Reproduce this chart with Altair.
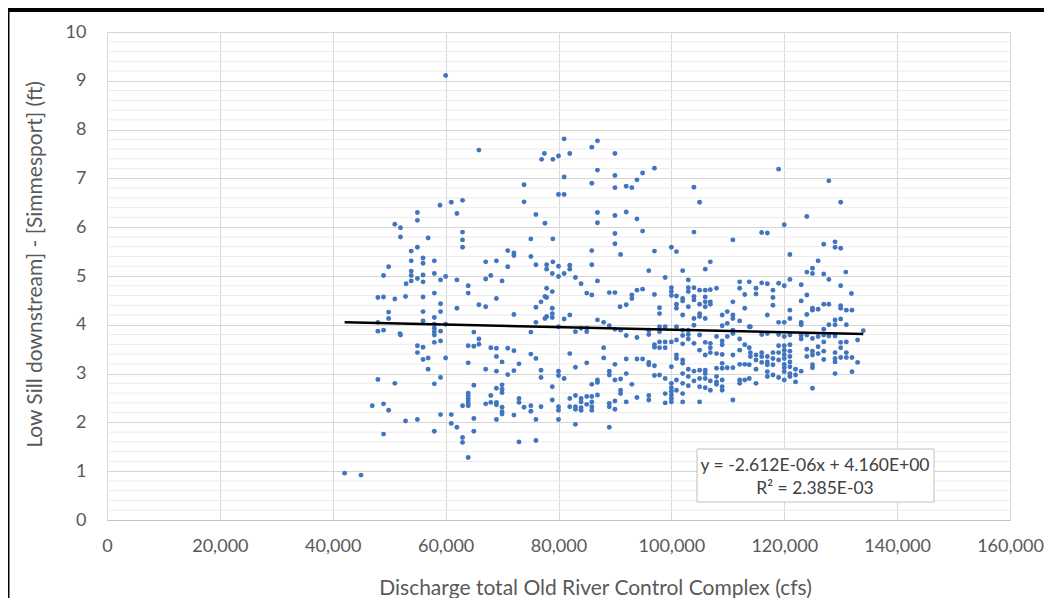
import altair as alt
import pandas as pd

# ---- Data (discharge in thousands of cfs, head difference in ft) ----
# Left cluster (40k-78k cfs), lower half
left_low_kcfs = [
    49.9, 49.0, 53.9, 53.9, 53.0, 53.9, 55.0, 56.0, 56.0, 58.0, 59.1, 60.0, 62.0, 64.0, 64.0, 67.1, 68.0, 70.0, 71.0, 76.0,
    48.0, 49.0, 51.0, 52.9, 56.0, 58.0, 59.1, 59.1, 62.0, 65.9, 67.1, 69.0, 72.1, 76.0, 76.9, 77.6,
    49.9, 49.9, 48.0, 56.0, 56.0, 58.0, 48.0, 49.0, 51.9, 52.0, 58.0, 58.0, 58.0, 58.0, 59.1, 60.0, 58.0, 59.1, 55.0, 56.0,
    55.0, 56.0, 56.9, 60.0, 56.9, 59.1, 58.0, 64.0, 65.0, 65.9, 65.9, 64.0, 65.0, 68.0, 69.0, 71.0, 72.1, 69.0, 70.0, 67.1,
    69.0, 71.0, 72.1, 73.0, 75.1, 76.0, 75.1, 76.0, 77.6, 76.9, 76.9,
    48.0, 51.0, 47.0, 49.0, 49.9, 52.9, 55.0, 49.0, 58.0, 59.1, 61.0, 61.0, 62.0, 63.0, 63.0, 64.0, 63.0, 64.0, 64.0, 64.0,
    64.0, 64.0, 64.0, 65.0, 65.0, 65.0, 67.1, 68.0, 68.0, 69.0, 69.0, 69.0, 70.0, 70.0, 70.0, 70.0, 70.0, 70.0, 69.0, 72.1,
    73.0, 73.0, 73.9, 75.1, 75.1, 76.0, 76.9, 73.0, 76.0, 42.1, 45.0,
]
left_low_ft = [
    5.19, 5.01, 5.10, 5.01, 4.84, 4.90, 4.95, 5.02, 4.88, 5.05, 4.92, 4.99, 4.92, 4.80, 4.65, 4.94, 5.01, 4.90, 5.19, 5.23,
    4.56, 4.57, 4.53, 4.58, 4.57, 4.65, 4.43, 4.27, 4.34, 4.41, 4.37, 4.54, 4.21, 4.36, 4.47, 4.58,
    4.26, 4.13, 4.05, 4.27, 4.08, 4.15, 3.87, 3.89, 3.82, 3.79, 4.01, 3.93, 3.86, 3.79, 3.87, 4.01, 3.64, 3.67, 3.57, 3.54,
    3.43, 3.29, 3.32, 3.32, 3.09, 2.92, 2.79, 3.22, 3.85, 3.71, 3.60, 3.57, 3.56, 3.53, 3.52, 3.52, 3.47, 3.35, 3.24, 3.09,
    3.05, 2.98, 3.06, 3.20, 3.40, 3.31, 3.85, 4.05, 4.13, 3.07, 2.92,
    2.88, 2.80, 2.34, 2.38, 2.25, 2.03, 2.06, 1.76, 1.82, 2.16, 2.16, 1.98, 1.90, 1.69, 1.59, 1.28, 2.34, 2.60, 2.55, 2.49,
    2.44, 2.38, 2.34, 2.76, 2.08, 1.82, 2.38, 2.41, 2.55, 2.70, 2.41, 2.36, 2.77, 2.68, 2.61, 2.31, 2.22, 2.17, 2.06, 2.15,
    2.49, 2.41, 2.31, 2.34, 2.23, 2.06, 2.32, 1.60, 1.63, 0.96, 0.92,
]

# Left cluster, upper half
left_high_kcfs = [
    60.0, 65.9, 77.0, 77.5, 73.9, 73.9, 76.0, 77.6, 59.0, 61.0, 63.0, 55.0, 55.0, 62.0, 51.0, 52.0, 52.0,
    56.9, 63.0, 63.0, 63.0, 55.0, 53.9, 53.9, 56.0, 56.0, 58.0, 67.1, 69.0, 71.0, 72.1, 72.1, 75.1, 75.1,
]
left_high_ft = [
    9.11, 7.58, 7.39, 7.51, 6.87, 6.52, 6.26, 6.08, 6.45, 6.51, 6.55, 6.30, 6.14, 6.28, 6.06, 5.99, 5.80,
    5.78, 5.90, 5.74, 5.59, 5.59, 5.51, 5.31, 5.37, 5.26, 5.31, 5.29, 5.31, 5.52, 5.47, 5.42, 5.76, 5.40,
]

# Middle cluster (78k-114k cfs), upper part
mid_high_kcfs = [
    81.0, 86.9, 85.9, 79.0, 80.0, 82.0, 90.0, 86.9, 97.0, 94.9, 90.0, 93.9, 81.0, 85.9, 90.0, 92.0, 93.0, 104.0, 105.0, 80.0,
    81.0, 86.9, 90.0, 92.0, 93.9, 86.9, 90.0, 94.9, 104.0, 79.0, 90.0, 110.9, 100.0, 100.9, 85.9, 91.0, 97.0, 106.9,
    77.9, 79.0, 80.0, 82.0, 82.0, 85.9, 77.9, 106.0, 96.0, 102.0,
]
mid_high_ft = [
    7.81, 7.77, 7.64, 7.39, 7.46, 7.51, 7.51, 7.17, 7.21, 7.11, 7.06, 6.97, 7.03, 6.90, 6.81, 6.84, 6.81, 6.82, 6.51, 6.67,
    6.67, 6.30, 6.24, 6.31, 6.17, 6.09, 5.87, 5.92, 5.90, 5.76, 5.66, 5.74, 5.59, 5.50, 5.52, 5.44, 5.51, 5.29,
    5.23, 5.29, 5.20, 5.22, 5.14, 5.23, 5.14, 5.14, 5.11, 5.11,
]

# Middle cluster, 4-5 ft
mid_four_kcfs = [
    81.0, 78.9, 80.0, 98.9, 103.0, 77.9, 77.9, 78.9, 83.0, 84.0, 86.9, 85.0, 85.9, 89.0, 90.0, 93.0, 93.0, 93.9, 94.9, 97.0,
    100.0, 100.0, 100.0, 100.9, 102.0, 102.0, 103.0, 103.0, 104.0, 104.0, 104.0, 105.0, 105.0, 106.0, 106.0, 106.0, 106.0, 106.9, 106.9, 106.9,
    108.0, 112.1, 112.1, 113.0, 113.8, 77.9, 78.9, 78.9, 78.9, 81.0, 82.0, 90.9, 92.0, 97.9, 97.9, 100.9, 100.9, 103.0, 102.0, 104.0,
    105.0, 105.0, 106.0, 109.0, 109.9, 110.9, 110.9, 110.9, 112.1, 113.0, 86.9, 88.0, 109.9,
]
mid_four_ft = [
    5.05, 5.05, 4.99, 4.97, 4.92, 4.75, 4.56, 4.68, 4.97, 4.84, 4.90, 4.65, 4.61, 4.66, 4.66, 4.61, 4.54, 4.71, 4.73, 4.62,
    4.76, 4.68, 4.60, 4.59, 4.54, 4.49, 4.76, 4.68, 4.76, 4.58, 4.51, 4.71, 4.42, 4.71, 4.57, 4.47, 4.37, 4.72, 4.47, 4.42,
    4.75, 4.88, 4.75, 4.62, 4.88, 4.17, 4.34, 4.23, 4.15, 4.12, 4.20, 4.37, 4.41, 4.35, 4.23, 4.42, 4.34, 4.37, 4.20, 4.13,
    4.23, 4.17, 4.13, 4.20, 4.27, 4.47, 4.20, 4.13, 4.08, 4.34, 4.10, 4.05, 4.03,
]

# Middle cluster, 3-4 ft
mid_three_kcfs = [
    80.0, 83.0, 84.0, 85.0, 85.0, 89.0, 90.0, 91.0, 92.0, 93.9, 96.0, 96.0, 97.0, 97.0, 97.9, 97.9, 97.9, 97.9, 98.9, 98.9,
    98.9, 100.0, 100.9, 100.9, 102.0, 102.0, 102.0, 103.0, 103.0, 103.0, 104.0, 104.0, 105.0, 105.0, 106.0, 106.0, 106.9, 106.9, 106.9, 108.0,
    108.0, 109.0, 109.0, 109.0, 109.0, 109.9, 110.9, 110.9, 110.9, 112.1, 112.1, 113.0, 113.0, 113.8, 113.8,
    82.0, 83.0, 85.0, 88.0, 88.0, 90.0, 92.0, 93.9, 94.9, 96.0, 96.0, 97.0, 100.0, 100.9, 100.9, 102.0, 102.0, 103.0, 104.0, 105.0,
    106.0, 106.0, 108.0, 109.0, 109.0, 109.9, 110.9, 112.1, 113.8,
]
mid_three_ft = [
    3.96, 3.86, 3.93, 3.93, 3.86, 3.98, 3.91, 3.89, 3.78, 3.74, 3.89, 3.80, 3.59, 3.54, 3.96, 3.86, 3.65, 3.53, 3.96, 3.65,
    3.53, 3.65, 3.96, 3.69, 3.89, 3.78, 3.61, 3.89, 3.80, 3.71, 3.99, 3.62, 3.79, 3.48, 3.64, 3.38, 3.62, 3.53, 3.43, 3.76,
    3.41, 3.98, 3.67, 3.59, 3.39, 3.76, 3.89, 3.82, 3.38, 3.71, 3.48, 3.59, 3.19, 3.96, 3.53,
    3.41, 3.13, 3.22, 3.53, 3.32, 3.19, 3.30, 3.30, 3.30, 3.23, 3.18, 3.16, 3.14, 3.38, 3.31, 3.28, 3.21, 3.09, 3.05, 3.07,
    3.07, 3.00, 3.11, 3.21, 3.11, 3.12, 3.12, 3.19, 3.18,
]

# Middle cluster, below 3 ft
mid_low_kcfs = [
    80.0, 80.0, 81.0, 78.9, 85.9, 86.9, 86.9, 89.0, 89.0, 90.0, 91.0, 91.0, 91.0, 92.0, 93.0, 97.0, 97.9, 98.9, 98.9, 98.9,
    100.0, 100.0, 100.0, 100.0, 100.0, 100.0, 100.9, 100.9, 102.0, 102.0, 102.0, 102.0, 103.0, 103.0, 104.0, 105.0, 105.0, 105.0, 106.0, 106.0,
    106.9, 106.9, 108.0, 108.0, 108.0, 109.0, 109.0, 109.0, 110.9, 112.1, 112.1, 113.0, 113.8,
    78.9, 80.0, 80.0, 80.0, 82.0, 82.0, 83.0, 83.0, 83.0, 83.0, 84.0, 84.0, 84.0, 84.0, 85.0, 85.0, 85.9, 85.9, 85.9, 85.9,
    86.9, 89.0, 89.0, 90.0, 90.0, 89.0, 92.0, 93.9, 96.0, 96.0,
]
mid_low_ft = [
    3.05, 2.96, 2.90, 2.73, 2.78, 2.87, 2.82, 3.05, 2.97, 2.87, 2.89, 2.66, 2.59, 3.00, 2.78, 2.96, 2.97, 2.90, 2.59, 2.40,
    2.80, 2.71, 2.64, 2.56, 2.49, 2.42, 2.87, 2.66, 3.00, 2.80, 2.59, 2.42, 2.94, 2.75, 2.85, 2.90, 2.73, 2.42, 2.90, 2.71,
    2.85, 2.66, 2.94, 2.83, 2.78, 2.87, 2.73, 2.66, 2.46, 2.87, 2.80, 2.87, 2.90,
    2.46, 2.32, 2.25, 2.06, 2.49, 2.32, 2.55, 2.32, 2.27, 1.96, 2.49, 2.42, 2.30, 2.25, 2.53, 2.37, 2.53, 2.42, 2.32, 2.25,
    2.56, 2.39, 2.32, 2.44, 2.27, 1.90, 2.42, 2.51, 2.55, 2.46,
]

# Right cluster (114k-134k cfs), upper part
right_high_kcfs = [
    115.0, 115.0, 116.0, 117.0, 118.0, 119.0, 120.0, 121.0, 123.0, 124.0, 124.0, 125.0, 127.0, 127.9, 130.0, 130.9, 131.9,
    119.0, 127.9, 130.0, 124.0, 120.0, 116.0, 117.0, 127.0, 129.0, 129.0, 130.0, 121.0, 126.0, 125.0,
]
right_high_ft = [
    4.75, 4.63, 4.86, 4.84, 4.71, 4.85, 4.80, 4.93, 4.82, 5.08, 4.61, 5.05, 5.04, 4.93, 4.80, 5.08, 4.64,
    7.19, 6.95, 6.51, 6.22, 6.05, 5.89, 5.88, 5.65, 5.70, 5.59, 5.57, 5.44, 5.31, 5.16,
]

# Right cluster, lower part
right_low_kcfs = [
    118.0, 118.0, 117.0, 119.0, 120.0, 121.0, 121.0, 123.0, 124.0, 125.0, 125.0, 126.0, 127.0, 127.9, 130.0, 130.0, 131.0, 132.0, 129.0, 130.0,
    131.0, 127.0, 127.9, 129.0, 123.0, 123.0, 123.0, 123.0, 124.0, 125.0, 126.0, 127.0, 127.0, 127.9, 129.0, 134.0, 133.0, 114.0, 116.0, 117.0,
    119.0, 120.0, 121.0, 114.0, 114.0, 115.0, 115.0, 116.0, 116.0, 116.0, 117.0, 117.0, 117.0, 117.0, 118.0, 118.0, 118.0, 119.0, 119.0, 119.0,
    120.0, 120.0, 120.0, 120.0, 120.0, 120.0, 120.0, 121.0, 121.0, 121.0, 121.0, 121.0, 121.0, 121.0, 122.0, 122.0, 122.0, 123.0, 115.0, 117.0,
    118.0, 119.0, 120.0, 115.0, 124.0, 124.0, 125.0, 125.0, 125.0, 125.0, 126.0, 126.0, 127.0, 127.0, 129.0, 129.0, 129.0, 130.0, 130.0, 130.0,
    131.0, 131.0, 131.0, 132.0, 133.0, 129.0, 132.0, 125.0,
]
right_low_ft = [
    4.56, 4.40, 4.20, 4.05, 4.05, 4.30, 4.13, 4.49, 4.21, 4.34, 4.30, 4.32, 4.42, 4.42, 4.39, 4.34, 4.30, 4.30, 4.10, 4.12,
    4.00, 3.91, 4.00, 4.00, 4.05, 4.00, 3.78, 3.71, 3.79, 3.72, 3.76, 3.79, 3.65, 3.77, 3.77, 3.88, 3.69, 3.96, 3.80, 3.82,
    3.80, 3.76, 3.79, 3.43, 3.35, 3.38, 3.28, 3.43, 3.35, 3.23, 3.35, 3.24, 3.18, 3.04, 3.43, 3.31, 3.18, 3.57, 3.43, 3.28,
    3.57, 3.48, 3.39, 3.31, 3.19, 3.12, 3.04, 3.59, 3.46, 3.35, 3.24, 3.14, 3.00, 2.94, 3.09, 2.97, 2.83, 3.05, 3.09, 2.94,
    2.97, 2.92, 2.87, 2.80, 3.50, 3.35, 3.46, 3.38, 3.18, 3.12, 3.55, 3.41, 3.46, 3.29, 3.43, 3.31, 3.24, 3.64, 3.53, 3.33,
    3.65, 3.43, 3.33, 3.33, 3.23, 3.00, 3.04, 2.70,
]

# Trend line as given by the chart label
trend_slope = -2.612e-06
trend_intercept = 4.160
eq_lines = ["y = -2.612E-06x + 4.160E+00", "R\u00b2 = 2.385E-03"]

x_ticks = [0, 20000, 40000, 60000, 80000, 100000, 120000, 140000, 160000]
y_ticks = [0, 1, 2, 3, 4, 5, 6, 7, 8, 9, 10]
y_minor = [i / 5 for i in range(51) if i % 5]

X_TITLE = "Discharge total Old River Control Complex (cfs)"
Y_TITLE = "Low Sill downstream] - [Simmesport] (ft)"

# ---- Build tables ----
groups = [
    (left_low_kcfs, left_low_ft), (left_high_kcfs, left_high_ft),
    (mid_high_kcfs, mid_high_ft), (mid_four_kcfs, mid_four_ft),
    (mid_three_kcfs, mid_three_ft), (mid_low_kcfs, mid_low_ft),
    (right_high_kcfs, right_high_ft), (right_low_kcfs, right_low_ft),
]
xs, ys = [], []
for gx, gy in groups:
    assert len(gx) == len(gy), (len(gx), len(gy))
    xs += [v * 1000 for v in gx]
    ys += gy
df = pd.DataFrame({"discharge": xs, "diff": ys})

xmin, xmax = min(xs), max(xs)
trend = pd.DataFrame({
    "discharge": [xmin, xmax],
    "diff": [trend_slope * xmin + trend_intercept, trend_slope * xmax + trend_intercept],
})

FONT = "Lato"
GREY = "#595959"

x_scale = alt.Scale(domain=[0, 160000], nice=False, zero=True)
y_scale = alt.Scale(domain=[0, 10], nice=False)

x_axis = alt.Axis(
    values=x_ticks, format=",.0f", title=X_TITLE, labelFont=FONT, labelFontSize=18, labelColor=GREY,
    labelPadding=17, labelFlush=False, labelOverlap=False, ticks=False, tickSize=0,
    domain=True, domainColor="#c4c4c4", grid=True, gridColor="#d9d9d9",
    titleFont=FONT, titleFontSize=21, titleColor=GREY, titleFontWeight="normal",
    titleX=488, titleY=74, titleBaseline="alphabetic", titleAlign="center",
)
y_axis = alt.Axis(
    values=y_ticks, format=".0f", title=Y_TITLE, labelFont=FONT, labelFontSize=18, labelColor=GREY,
    labelPadding=21, labelFlush=False, labelOverlap=False, ticks=False, tickSize=0,
    domain=False, grid=True, gridColor="#d5d5d5",
    titleFont=FONT, titleFontSize=21, titleColor=GREY, titleFontWeight="normal",
    titleX=-66, titleY=232, titleAngle=270, titleBaseline="alphabetic", titleAlign="center",
)

minor = alt.Chart(pd.DataFrame({"m": y_minor})).mark_rule(color="#ebebeb", strokeWidth=1).encode(
    y=alt.Y("m:Q", scale=y_scale, axis=y_axis)
)

points = alt.Chart(df).mark_circle(size=24, opacity=1, color="#4275bf").encode(
    x=alt.X("discharge:Q", scale=x_scale, axis=x_axis),
    y=alt.Y("diff:Q", scale=y_scale, axis=y_axis),
)

line = alt.Chart(trend).mark_line(color="black", strokeWidth=2.5).encode(
    x=alt.X("discharge:Q", scale=x_scale, axis=x_axis),
    y=alt.Y("diff:Q", scale=y_scale, axis=y_axis),
)

box = alt.Chart(pd.DataFrame({"b": [1]})).mark_rect(fill="white", stroke="#c0c0c0", strokeWidth=1).encode(
    x=alt.value(590), x2=alt.value(827), y=alt.value(417), y2=alt.value(470)
)
eq1 = alt.Chart(pd.DataFrame({"t": [eq_lines[0]]})).mark_text(
    font=FONT, fontSize=17.5, color="#404040", align="center", baseline="alphabetic"
).encode(text="t:N", x=alt.value(708), y=alt.value(439))
eq2 = alt.Chart(pd.DataFrame({"t": [eq_lines[1]]})).mark_text(
    font=FONT, fontSize=17.5, color="#404040", align="center", baseline="alphabetic"
).encode(text="t:N", x=alt.value(708), y=alt.value(462))

frame_left = alt.Chart(pd.DataFrame({"f": [1]})).mark_rule(color="black", strokeWidth=3).encode(
    x=alt.value(-99), y=alt.value(-24), y2=alt.value(600)
)
frame_top = alt.Chart(pd.DataFrame({"f": [1]})).mark_rule(color="black", strokeWidth=4).encode(
    y=alt.value(-22), x=alt.value(-100), x2=alt.value(960)
)

chart = alt.layer(minor, points, line, box, eq1, eq2, frame_left, frame_top).properties(
    width=903, height=488,
    autosize=alt.AutoSizeParams(type="none"),
    padding={"left": 99, "top": 24, "right": 34, "bottom": 78},
    background="white",
).configure_view(stroke=None)

chart.save("out.html", embed_options={"renderer": "svg", "actions": False})
